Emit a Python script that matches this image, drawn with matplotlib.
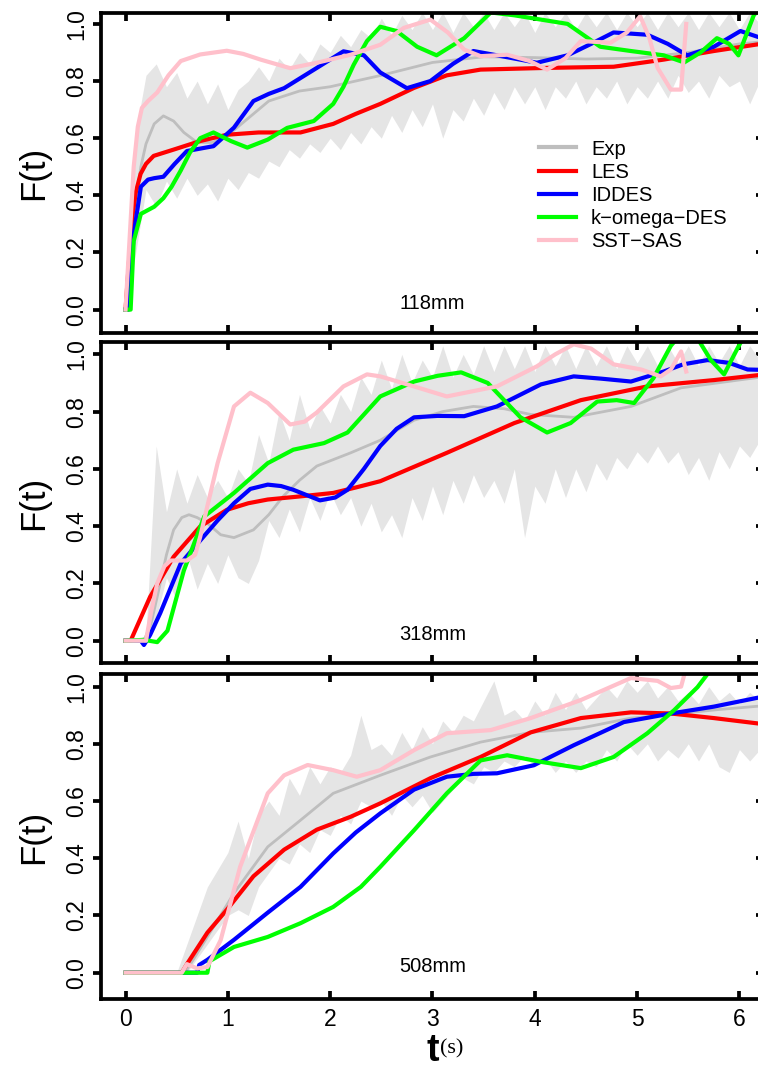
import numpy as np
import matplotlib
matplotlib.use("Agg")
import matplotlib.pyplot as plt

plt.rcParams["font.family"] = ["Liberation Sans", "DejaVu Sans"]

labels = ["Exp", "LES", "IDDES", "k\u2212omega\u2212DES", "SST\u2212SAS"]
colors = ["#bebebe", "#ff0000", "#0000ff", "#00ff00", "#ffc0cb"]
panel_names = ["118mm", "318mm", "508mm"]

# ---- panel 1 : 118mm ----
exp1_t = [0, 0.05, 0.1, 0.15, 0.2, 0.28, 0.37, 0.47, 0.57, 0.7, 0.85, 1.0, 1.2, 1.4, 1.7, 2.0, 2.5,
          3.0, 3.5, 4.0, 4.5, 5.0, 5.5, 6.0, 6.3]
exp1 = [0, 0.2, 0.38, 0.5, 0.58, 0.65, 0.678, 0.66, 0.62, 0.585, 0.585, 0.61, 0.67, 0.73, 0.765,
        0.78, 0.82, 0.865, 0.885, 0.882, 0.877, 0.88, 0.9, 0.93, 0.94]
les1_t = [0, 0.03, 0.065, 0.1, 0.147, 0.2, 0.275, 0.47, 0.73, 0.99, 1.3, 1.71, 2.03, 2.25, 2.49,
          2.82, 3.14, 3.47, 4.12, 4.77, 5.26, 5.75, 6.3]
les1 = [0, 0.15, 0.32, 0.41, 0.475, 0.51, 0.538, 0.56, 0.59, 0.612, 0.62, 0.62, 0.65, 0.685, 0.72,
        0.776, 0.82, 0.84, 0.846, 0.85, 0.875, 0.905, 0.935]
iddes1_t = [0, 0.03, 0.08, 0.15, 0.22, 0.28, 0.37, 0.48, 0.6, 0.86, 1.06, 1.25, 1.4, 1.55, 1.87,
            2.13, 2.33, 2.49, 2.75, 2.98, 3.2, 3.4, 3.63, 4.02, 4.32, 4.55, 4.77, 5.1, 5.3, 5.49,
            5.75, 6.01, 6.3]
iddes1 = [0, 0, 0.265, 0.43, 0.455, 0.46, 0.465, 0.51, 0.555, 0.572, 0.637, 0.73, 0.755, 0.775,
          0.846, 0.904, 0.89, 0.83, 0.775, 0.8, 0.86, 0.905, 0.89, 0.864, 0.89, 0.93, 0.97, 0.962,
          0.93, 0.89, 0.92, 0.975, 0.94]
komega1_t = [0, 0.05, 0.08, 0.15, 0.28, 0.37, 0.45, 0.54, 0.63, 0.73, 0.86, 1.03, 1.19, 1.39, 1.58,
             1.84, 2.03, 2.13, 2.23, 2.36, 2.49, 2.65, 2.85, 3.04, 3.31, 3.57, 3.8, 4.06, 4.32,
             4.64, 4.94, 5.26, 5.46, 5.62, 5.78, 5.9, 5.99, 6.14, 6.3]
komega1 = [0, 0, 0.24, 0.335, 0.36, 0.39, 0.43, 0.487, 0.55, 0.6, 0.62, 0.59, 0.567, 0.595, 0.636,
           0.66, 0.72, 0.78, 0.857, 0.94, 0.99, 0.975, 0.92, 0.89, 0.95, 1.04, 1.03, 1.015, 1.0,
           0.92, 0.905, 0.89, 0.865, 0.9, 0.95, 0.93, 0.89, 1.03, 1.1]
sstsas1_t = [0, 0.04, 0.08, 0.12, 0.16, 0.22, 0.31, 0.42, 0.54, 0.73, 0.99, 1.15, 1.32, 1.61, 1.87,
             2.2, 2.49, 2.72, 2.98, 3.15, 3.31, 3.47, 3.73, 3.95, 4.12, 4.3, 4.45, 4.74, 4.9, 5.03,
             5.12, 5.2, 5.33, 5.43, 5.48]
sstsas1 = [0, 0.25, 0.5, 0.64, 0.706, 0.73, 0.76, 0.82, 0.87, 0.893, 0.906, 0.895, 0.875, 0.845,
           0.864, 0.892, 0.927, 0.986, 1.015, 0.97, 0.91, 0.887, 0.892, 0.87, 0.84, 0.88, 0.94,
           0.934, 0.97, 1.027, 0.95, 0.846, 0.77, 0.77, 1.0]

# ---- panel 2 : 318mm ----
exp2_t = [0, 0.18, 0.25, 0.31, 0.4, 0.47, 0.55, 0.62, 0.7, 0.8, 0.93, 1.06, 1.25, 1.4, 1.54, 1.7,
          1.87, 2.2, 2.49, 2.82, 3.1, 3.4, 3.7, 3.96, 4.38, 4.94, 5.43, 6.3]
exp2 = [0, 0, 0.06, 0.154, 0.3, 0.387, 0.43, 0.44, 0.43, 0.41, 0.37, 0.36, 0.387, 0.44, 0.504,
        0.56, 0.61, 0.656, 0.7, 0.77, 0.8, 0.818, 0.81, 0.79, 0.78, 0.818, 0.883, 0.925]
les2_t = [0, 0.05, 0.24, 0.47, 0.73, 0.99, 1.2, 1.39, 1.71, 2.03, 2.25, 2.49, 3.14, 3.8, 4.45,
          5.1, 5.75, 6.3]
les2 = [0, 0, 0.153, 0.293, 0.399, 0.457, 0.48, 0.493, 0.504, 0.516, 0.535, 0.557, 0.656, 0.76,
        0.84, 0.888, 0.91, 0.932]
iddes2_t = [0, 0.15, 0.18, 0.24, 0.34, 0.54, 0.73, 0.9, 1.06, 1.22, 1.39, 1.52, 1.64, 1.9, 2.05,
            2.17, 2.33, 2.49, 2.65, 2.82, 3.05, 3.31, 3.63, 4.06, 4.38, 4.65, 4.94, 5.26, 5.45,
            5.69, 5.9, 6.08, 6.3]
iddes2 = [0, 0, -0.015, 0.02, 0.097, 0.27, 0.35, 0.42, 0.48, 0.53, 0.545, 0.54, 0.527, 0.49, 0.5,
          0.527, 0.6, 0.68, 0.74, 0.78, 0.785, 0.784, 0.818, 0.895, 0.923, 0.915, 0.905, 0.94,
          0.965, 0.98, 0.97, 0.947, 0.945]
komega2_t = [0, 0.18, 0.31, 0.41, 0.57, 0.77, 1.06, 1.39, 1.64, 1.94, 2.17, 2.33, 2.49, 2.82, 3.05,
             3.28, 3.54, 3.7, 3.86, 4.12, 4.35, 4.61, 4.8, 4.97, 5.16, 5.33, 5.45, 5.6, 5.72, 5.85,
             5.98, 6.1, 6.3]
komega2 = [0, 0.003, -0.005, 0.035, 0.245, 0.434, 0.516, 0.62, 0.667, 0.69, 0.727, 0.79, 0.853,
           0.905, 0.925, 0.937, 0.9, 0.84, 0.78, 0.727, 0.76, 0.835, 0.84, 0.83, 0.917, 1.03, 1.08,
           1.05, 0.98, 0.93, 1.02, 1.1, 1.2]
sstsas2_t = [0, 0.2, 0.25, 0.31, 0.38, 0.44, 0.6, 0.68, 0.73, 0.8, 0.9, 1.06, 1.22, 1.39, 1.61,
             1.75, 1.87, 2.13, 2.36, 2.49, 2.8, 3.14, 3.63, 4.02, 4.2, 4.38, 4.55, 4.77, 5.04, 5.23,
             5.33, 5.43, 5.48]
sstsas2 = [0, 0, 0.1, 0.2, 0.26, 0.28, 0.28, 0.3, 0.363, 0.47, 0.62, 0.818, 0.866, 0.83, 0.755,
           0.765, 0.797, 0.888, 0.93, 0.923, 0.89, 0.853, 0.888, 0.958, 1.0, 1.035, 1.02, 0.965,
           0.947, 0.923, 0.947, 1.01, 0.94]

# ---- panel 3 : 508mm ----
exp3_t = [0, 0.55, 0.6, 0.86, 1.06, 1.39, 1.71, 2.03, 2.49, 2.98, 3.47, 3.96, 4.45, 4.94, 5.26,
          5.8, 6.3]
exp3 = [0, 0, 0.01, 0.16, 0.278, 0.44, 0.533, 0.627, 0.69, 0.754, 0.806, 0.84, 0.855, 0.89, 0.9,
        0.92, 0.935]
les3_t = [0, 0.55, 0.6, 0.8, 0.99, 1.25, 1.55, 1.87, 2.2, 2.49, 2.98, 3.47, 3.96, 4.45, 4.94,
          5.33, 5.75, 6.3]
les3 = [0, 0, 0.03, 0.14, 0.22, 0.337, 0.43, 0.5, 0.545, 0.592, 0.68, 0.754, 0.84, 0.89, 0.91,
        0.906, 0.89, 0.866]
iddes3_t = [0, 0.7, 0.72, 0.8, 1.06, 1.39, 1.71, 2.03, 2.25, 2.49, 2.82, 3.14, 3.4, 3.63, 3.99,
            4.38, 4.87, 5.33, 5.75, 6.3]
iddes3 = [0, 0, 0.027, 0.045, 0.115, 0.21, 0.3, 0.417, 0.49, 0.557, 0.64, 0.685, 0.695, 0.697,
          0.725, 0.795, 0.876, 0.906, 0.93, 0.97]
komega3_t = [0, 0.8, 0.82, 1.06, 1.39, 1.71, 2.03, 2.3, 2.49, 2.82, 3.14, 3.47, 3.73, 4.06, 4.45,
             4.77, 5.1, 5.36, 5.59, 5.69, 6.3]
komega3 = [0, 0, 0.04, 0.09, 0.125, 0.173, 0.23, 0.3, 0.37, 0.498, 0.627, 0.742, 0.76, 0.737,
           0.715, 0.754, 0.837, 0.917, 0.998, 1.045, 1.3]
sstsas3_t = [0, 0.55, 0.6, 0.7, 0.8, 0.93, 1.12, 1.39, 1.55, 1.78, 2.03, 2.26, 2.49, 2.82, 3.14,
             3.57, 3.96, 4.45, 4.94, 5.2, 5.33, 5.43, 5.46]
sstsas3 = [0, 0, 0.03, 0.015, 0.02, 0.114, 0.37, 0.627, 0.69, 0.726, 0.708, 0.685, 0.708, 0.778,
           0.837, 0.848, 0.89, 0.953, 1.03, 1.02, 0.995, 1.0, 1.04]

# raw experimental signal, shown as a grey band (sampled every 0.1 s)
band_t = [i / 10 for i in range(63)]
hi1 = [0.0, 0.62, 0.82, 0.86, 0.78, 0.83, 0.74, 0.8, 0.72, 0.79, 0.7, 0.77, 0.8, 0.85, 0.8, 0.88,
       0.84, 0.9, 0.86, 0.93, 0.9, 0.96, 0.92, 0.98, 0.95, 1.02, 0.96, 1.03, 0.98, 1.04, 0.98,
       1.04, 0.97, 1.04, 0.99, 1.04, 0.98, 1.04, 0.99, 1.04, 0.97, 1.04, 0.99, 1.04, 0.98, 1.04,
       0.99, 1.04, 0.98, 1.04, 0.99, 1.04, 0.98, 1.04, 0.99, 1.04, 0.98, 1.04, 0.99, 1.04, 0.98,
       1.04, 1.0]
lo1 = [0.0, 0.2, 0.42, 0.36, 0.45, 0.39, 0.46, 0.4, 0.44, 0.38, 0.46, 0.42, 0.48, 0.46, 0.52, 0.5,
       0.56, 0.53, 0.58, 0.55, 0.6, 0.56, 0.62, 0.58, 0.64, 0.6, 0.68, 0.62, 0.7, 0.64, 0.72, 0.6,
       0.7, 0.66, 0.74, 0.68, 0.76, 0.7, 0.78, 0.72, 0.78, 0.7, 0.78, 0.74, 0.8, 0.72, 0.78, 0.74,
       0.8, 0.72, 0.78, 0.74, 0.8, 0.74, 0.82, 0.76, 0.8, 0.74, 0.82, 0.78, 0.8, 0.72, 0.8]
hi2 = [0, 0, 0.02, 0.68, 0.45, 0.6, 0.48, 0.58, 0.5, 0.56, 0.5, 0.6, 0.55, 0.72, 0.62, 0.8, 0.7,
       0.86, 0.74, 0.82, 0.76, 0.86, 0.8, 0.92, 0.86, 0.98, 0.88, 1.0, 0.9, 0.98, 0.92, 1.03, 0.92,
       1.0, 0.93, 1.03, 0.94, 1.03, 0.95, 1.03, 0.94, 1.03, 0.96, 1.03, 0.95, 1.03, 0.96, 1.03,
       0.95, 1.03, 0.97, 1.03, 0.96, 1.03, 0.97, 1.03, 0.96, 1.03, 0.97, 1.03, 0.96, 1.03, 0.98]
lo2 = [0, 0, 0, 0.08, 0.22, 0.14, 0.3, 0.18, 0.27, 0.2, 0.3, 0.22, 0.2, 0.28, 0.42, 0.36, 0.46,
       0.38, 0.5, 0.42, 0.52, 0.44, 0.5, 0.4, 0.48, 0.38, 0.44, 0.36, 0.5, 0.42, 0.54, 0.44, 0.56,
       0.48, 0.58, 0.5, 0.56, 0.48, 0.6, 0.36, 0.54, 0.48, 0.6, 0.5, 0.6, 0.52, 0.62, 0.56, 0.64,
       0.6, 0.66, 0.62, 0.68, 0.62, 0.66, 0.58, 0.64, 0.56, 0.66, 0.6, 0.68, 0.64, 0.7]
hi3 = [0, 0, 0, 0, 0, 0, 0.1, 0.2, 0.3, 0.36, 0.42, 0.53, 0.4, 0.55, 0.6, 0.55, 0.68, 0.62, 0.72,
       0.66, 0.72, 0.7, 0.76, 0.9, 0.78, 0.8, 0.76, 0.84, 0.78, 0.86, 0.8, 0.88, 0.84, 0.9, 0.88,
       0.95, 1.02, 0.9, 0.92, 0.88, 0.95, 0.9, 0.98, 0.92, 0.98, 0.92, 0.96, 1.0, 0.96, 1.02, 0.98,
       1.02, 0.96, 1.0, 0.95, 0.98, 0.94, 1.0, 0.95, 0.98, 0.94, 0.98, 0.95]
lo3 = [0, 0, 0, 0, 0, 0, 0.0, 0.05, 0.1, 0.15, 0.2, 0.22, 0.2, 0.3, 0.35, 0.4, 0.38, 0.45, 0.42,
       0.5, 0.48, 0.55, 0.52, 0.6, 0.58, 0.6, 0.55, 0.62, 0.58, 0.62, 0.56, 0.6, 0.64, 0.68, 0.66,
       0.72, 0.7, 0.74, 0.72, 0.76, 0.72, 0.75, 0.7, 0.74, 0.7, 0.74, 0.72, 0.78, 0.74, 0.8, 0.76,
       0.8, 0.74, 0.78, 0.75, 0.8, 0.74, 0.8, 0.72, 0.7, 0.78, 0.74, 0.78]

panels = [
    ([(exp1_t, exp1), (les1_t, les1), (iddes1_t, iddes1), (komega1_t, komega1), (sstsas1_t, sstsas1)], hi1, lo1),
    ([(exp2_t, exp2), (les2_t, les2), (iddes2_t, iddes2), (komega2_t, komega2), (sstsas2_t, sstsas2)], hi2, lo2),
    ([(exp3_t, exp3), (les3_t, les3), (iddes3_t, iddes3), (komega3_t, komega3), (sstsas3_t, sstsas3)], hi3, lo3),
]

fig = plt.figure(figsize=(7.58, 10.68), dpi=100)

# axes boxes in figure fraction: [left, bottom, width, height]
boxes = [[0.1332, 0.6879, 0.8747, 0.2999],
         [0.1332, 0.3789, 0.8747, 0.3006],
         [0.1332, 0.0643, 0.8747, 0.3046]]
ylims = [(-0.083, 1.038), (-0.079, 1.042), (-0.093, 1.044)]

widths = [2.0, 3.0, 3.0, 3.0, 3.0]
lw_frame = 2.7

for i, (series, hi, lo) in enumerate(panels):
    ax = fig.add_axes(boxes[i])
    ax.fill_between(band_t, lo, hi, color="#e5e5e5", lw=0)
    handles = []
    for (t, y), c, lab, w in zip(series, colors, labels, widths):
        h, = ax.plot(t, y, color=c, lw=w, label=lab, solid_joinstyle="round")
        handles.append(h)

    ax.set_xlim(-0.24, 6.24)
    ax.set_ylim(*ylims[i])
    ax.set_xticks(range(7))
    ax.set_yticks([0, 0.2, 0.4, 0.6, 0.8, 1.0])
    ax.set_yticklabels(["0.0", "0.2", "0.4", "0.6", "0.8", "1.0"])
    for s in ax.spines.values():
        s.set_linewidth(lw_frame)
    ax.tick_params(axis="x", top=True, bottom=True, direction="in", length=6, width=lw_frame,
                   labelsize=16.5, pad=6, labelbottom=(i == 2))
    ax.tick_params(axis="y", left=True, direction="out", length=6, width=lw_frame,
                   labelsize=16.5, pad=3)
    plt.setp(ax.get_yticklabels(), rotation=90, va="center")

    right = ax.secondary_yaxis("right")
    right.set_yticks([0, 0.2, 0.4, 0.6, 0.8, 1.0])
    right.tick_params(direction="in", length=6, width=lw_frame, labelright=False)
    right.spines["right"].set_linewidth(lw_frame)

    ax.text(-0.101, 0.5, "F(t)", transform=ax.transAxes, rotation=90, ha="center",
            va="center", fontsize=25)
    ax.text(3.0, 0.02, panel_names[i], ha="center", va="center", fontsize=14.5)

    if i == 0:
        leg = ax.legend(handles=handles, loc="upper left", bbox_to_anchor=(0.66, 0.605),
                        frameon=False, fontsize=14.5, handlelength=1.85, handletextpad=0.75,
                        labelspacing=0.2, borderpad=0, borderaxespad=0)
        for ln in leg.get_lines():
            ln.set_linewidth(3.0)

fig.text(0.5706, 0.0066, "t", ha="center", va="baseline", fontsize=27, fontweight="bold")
fig.text(0.5805, 0.0175, "(s)", ha="left", va="center", fontsize=16,
         family=["Liberation Serif", "DejaVu Serif"])

fig.savefig("out.png", dpi=100)
